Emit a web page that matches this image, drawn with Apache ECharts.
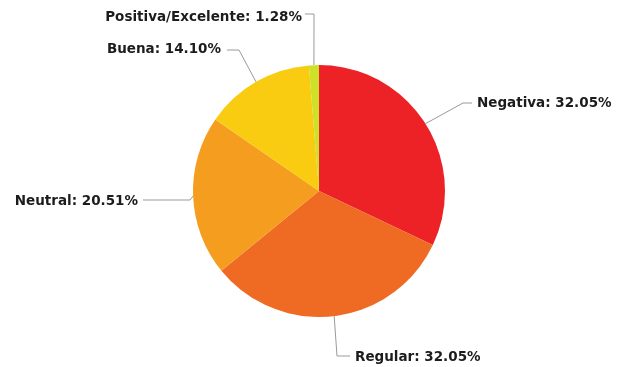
<!DOCTYPE html>
<html>
<head>
<meta charset="utf-8">
<script src="https://cdn.jsdelivr.net/npm/echarts@6/dist/echarts.min.js"></script>
<style>
  html, body { margin: 0; padding: 0; background: #ffffff; }
  #chart { width: 618px; height: 367px; }
</style>
</head>
<body>
<div id="chart"></div>
<script>
// Opinion shares, clockwise from 12 o'clock
const categories = ['Negativa', 'Regular', 'Neutral', 'Buena', 'Positiva/Excelente'];
const percentages = [32.05, 32.05, 20.51, 14.10, 1.28];
const sliceColors = ['#ec2226', '#ef6b23', '#f59d1e', '#f9cc11', '#cde02a'];

// Where each label sits and how its leader line bends
const labelSpots = [
  { x: 477, y: 103, align: 'left',  elbow: [463, 103], end: [472, 103] },
  { x: 355, y: 357, align: 'left',  elbow: [337, 356], end: [350, 356] },
  { x: 138, y: 201, align: 'right', elbow: [190, 200], end: [143, 200] },
  { x: 221, y: 49,  align: 'right', elbow: [239, 50],  end: [227, 50] },
  { x: 302, y: 17,  align: 'right', elbow: [314, 14],  end: [305, 14] }
];

const chart = echarts.init(document.getElementById('chart'), null, { renderer: 'canvas' });

chart.setOption({
  backgroundColor: '#ffffff',
  animation: false,
  series: [{
    type: 'pie',
    center: [319, 191],
    radius: [0, 126],
    startAngle: 90,
    clockwise: true,
    data: categories.map((name, i) => ({
      name: name,
      value: percentages[i],
      itemStyle: { color: sliceColors[i] }
    })),
    label: {
      show: true,
      position: 'outside',
      formatter: p => p.name + ': ' + p.value.toFixed(2) + '%',
      fontFamily: 'DejaVu Sans',
      fontWeight: 'bold',
      fontSize: 13.5,
      color: '#1c1c1c'
    },
    labelLine: {
      show: true,
      lineStyle: { color: '#9a9a9a', width: 1 }
    },
    labelLayout: function (params) {
      const spot = labelSpots[params.dataIndex];
      const start = params.labelLinePoints ? params.labelLinePoints[0] : spot.elbow;
      return {
        x: spot.x,
        y: spot.y,
        align: spot.align,
        verticalAlign: 'middle',
        labelLinePoints: [start, spot.elbow, spot.end]
      };
    }
  }]
});
</script>
</body>
</html>
